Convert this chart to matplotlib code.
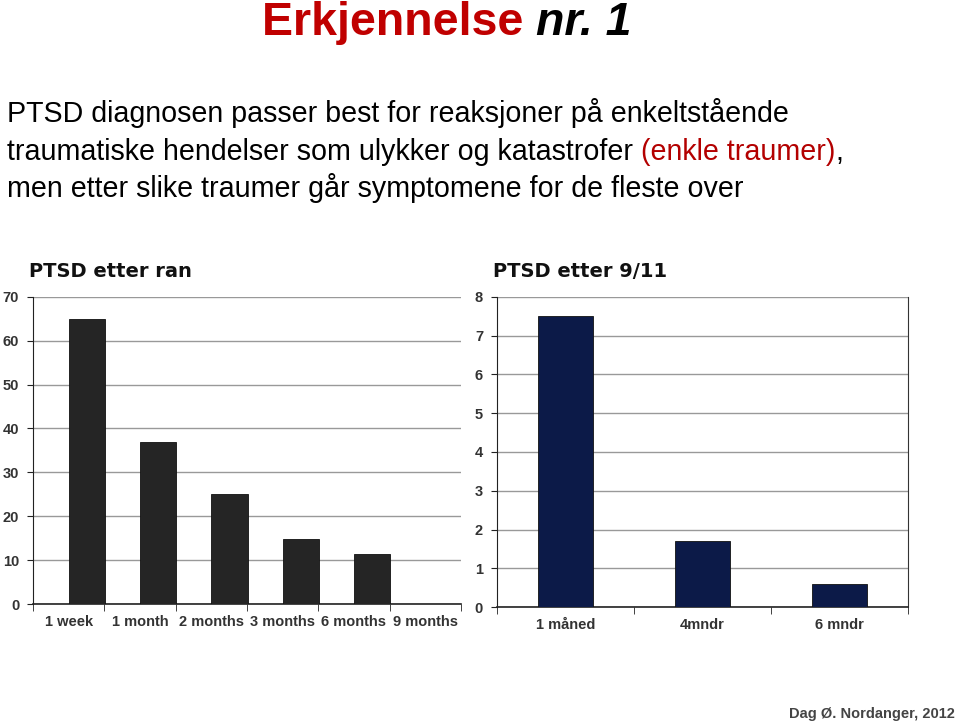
import numpy as np
import matplotlib.pyplot as plt

# data
ran_labels = ["1 week", "1 month", "2 months", "3 months", "6 months", "9 months"]
ran_values = [65, 36.8, 25, 14.7, 11.5, 0]

wtc_labels = ["1 måned", "4mndr", "6 mndr"]
wtc_values = [7.5, 1.7, 0.6]

body_lines = [
    [("PTSD diagnosen passer best for reaksjoner på enkeltstående", "black")],
    [("traumatiske hendelser som ulykker og katastrofer ", "black"),
     ("(enkle traumer)", "#b30000"), (",", "black")],
    [("men etter slike traumer går symptomene for de fleste over", "black")],
]

plt.rcParams['font.family'] = ['Liberation Sans', 'DejaVu Sans']

fig = plt.figure(figsize=(9.6, 7.24), dpi=100)
renderer = fig.canvas.get_renderer()


def put_run(x_px, y_px, pieces, size, weight="normal", style="normal"):
    """ Write coloured text pieces one after another on one line. """
    x = x_px
    for txt, col in pieces:
        t = fig.text(x / 960, 1 - y_px / 724, txt, color=col, fontsize=size,
                     fontweight=weight, fontstyle=style, va="baseline", ha="left")
        x += t.get_window_extent(renderer=renderer).width
    return x


# heading
x_end = put_run(262, 35, [("Erkjennelse ", "#c00000")], 33.5, weight="bold")
put_run(x_end, 35, [("nr. 1", "black")], 33.5, weight="bold", style="italic")

for i, line in enumerate(body_lines):
    put_run(7, 122 + i * 37.5, line, 20.6)


def bar_panel(rect, labels, values, color, ymax, ystep, title, right_frame,
              edge_bars):
    ax = fig.add_axes(rect)
    x = np.arange(len(labels))
    if edge_bars:
        # excel-style: bar sits on the right half of its slot
        ax.bar(x, values, width=0.51, align="edge", color=color,
               edgecolor="#111111", linewidth=0.6, zorder=3)
    else:
        ax.bar(x, values, width=0.4, color=color, edgecolor="#111111",
               linewidth=0.6, zorder=3)
    ax.set_xlim(-0.5, len(labels) - 0.5)
    ax.set_ylim(0, ymax)
    ax.set_yticks(np.arange(0, ymax + ystep, ystep))
    ax.yaxis.grid(True, color="#999999", linewidth=1.0, zorder=0)
    ax.set_xticks(x)
    ax.set_xticklabels(labels)
    ax.set_xticks(np.arange(-0.5, len(labels), 1), minor=True)
    ax.tick_params(axis="x", which="major", length=0, pad=8)
    ax.tick_params(axis="x", which="minor", length=5, direction="out",
                   color="#222222")
    ax.tick_params(axis="y", length=4, direction="out", pad=6, color="#222222")
    for lab in ax.get_xticklabels() + ax.get_yticklabels():
        lab.set_fontweight("bold")
        lab.set_fontsize(10.5)
        lab.set_color("#333333")
    ax.spines["top"].set_visible(False)
    ax.spines["right"].set_visible(right_frame)
    ax.spines["right"].set_color("#333333")
    ax.spines["left"].set_color("#222222")
    ax.spines["bottom"].set_color("#222222")
    ax.spines["bottom"].set_linewidth(1.2)
    ax.set_title(title, loc="left", fontsize=14, fontweight="bold",
                 family="DejaVu Sans", x=-0.01, pad=14, color="#111111")
    return ax


bar_panel([0.0344, 0.1657, 0.4458, 0.4245], ran_labels, ran_values,
          "#252525", 70, 10, "PTSD etter ran", False, True)
bar_panel([0.5177, 0.1612, 0.428, 0.429], wtc_labels, wtc_values,
          "#0c1a48", 8, 1, "PTSD etter 9/11", True, False)

fig.text(955 / 960, 1 - 718 / 724, "Dag Ø. Nordanger, 2012", ha="right",
         va="baseline", fontsize=10.5, fontweight="bold", color="#444444")

fig.savefig("out.png", dpi=100)
